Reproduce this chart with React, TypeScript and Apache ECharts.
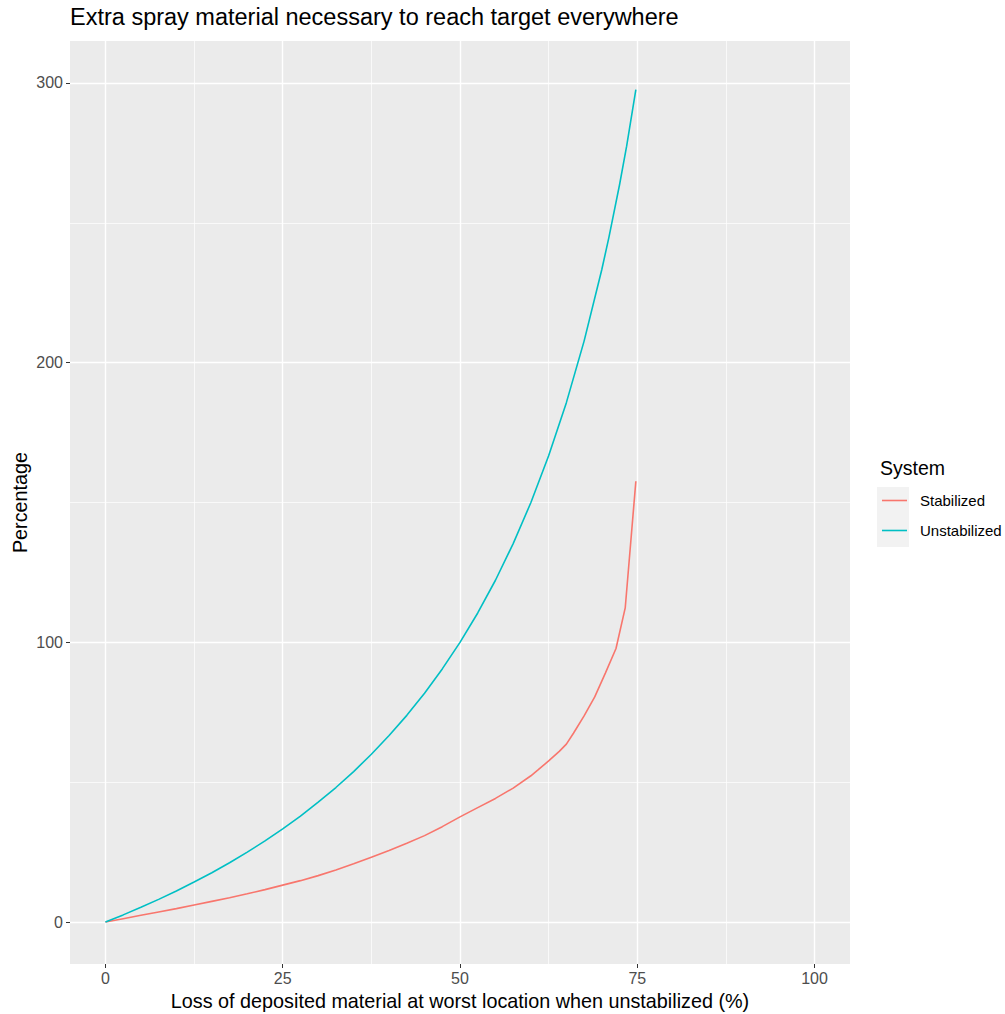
import React, { useEffect, useRef } from "react";
import * as echarts from "echarts";

const stabX = [0, 2.5, 5, 7.5, 10, 12.5, 15, 17.5, 20, 22.5, 25, 27.5, 30, 32.5, 35, 37.5, 40, 42.5, 45, 47.5, 50, 52.5, 55, 57.5, 60, 61, 62.5, 64, 65, 66, 67.5, 69, 70.5, 72, 73.3, 74.8];
const stabY = [0, 1.2, 2.4, 3.6, 4.8, 6.1, 7.4, 8.7, 10.1, 11.6, 13.2, 14.8, 16.6, 18.6, 20.8, 23.2, 25.6, 28.2, 30.9, 34.1, 37.6, 40.9, 44.2, 47.9, 52.3, 54.4, 57.6, 61.0, 63.6, 67.5, 73.7, 80.5, 89.0, 97.8, 112.3, 157.6];

const unstabX = [0, 2.5, 5, 7.5, 10, 12.5, 15, 17.5, 20, 22.5, 25, 27.5, 30, 32.5, 35, 37.5, 40, 42.5, 45, 47.5, 50, 52.5, 55, 57.5, 60, 62.5, 65, 67.5, 70, 71, 72.5, 73.5, 74.8];
const unstabY = [0, 2.56, 5.26, 8.11, 11.1, 14.3, 17.6, 21.2, 25.0, 29.0, 33.3, 37.9, 42.9, 48.1, 53.8, 60.0, 66.7, 73.9, 81.8, 90.5, 100, 110.5, 122.2, 135.3, 150, 166.7, 185.7, 207.7, 233.3, 244.8, 263.6, 277.4, 297.6];

const xTicks = [0, 25, 50, 75, 100];
const xMinor = [12.5, 37.5, 62.5, 87.5];
const yTicks = [0, 100, 200, 300];
const yMinor = [50, 150, 250];

const seriesNames = ["Stabilized", "Unstabilized"];
const seriesColors = ["#F8766D", "#00BFC4"];

const FONT = "'Liberation Sans', Arial, sans-serif";

export default function App() {
  const ref = useRef<HTMLDivElement>(null);
  useEffect(() => {
    document.body.style.margin = "0";
    const chart = echarts.init(ref.current!, null, { renderer: "svg" });
    const zip = (xs: number[], ys: number[]) => xs.map((x, i) => [x, ys[i]]);
    const hiddenLine = { show: false, onZero: false };
    const legendBase = {
      orient: "vertical",
      left: 882,
      padding: 0,
      icon: "rect",
      itemWidth: 25,
      itemHeight: 1.6,
      textStyle: { fontFamily: FONT, fontSize: 15, color: "#000000", padding: [0, 0, 0, 8] },
    };
    chart.setOption({
      animation: false,
      backgroundColor: "#FFFFFF",
      textStyle: { fontFamily: FONT },
      title: {
        text: "Extra spray material necessary to reach target everywhere",
        left: 70,
        top: 5,
        padding: 0,
        textStyle: { fontFamily: FONT, fontSize: 23.5, fontWeight: "normal", color: "#000000" },
      },
      grid: {
        left: 70,
        top: 41,
        width: 780,
        height: 923,
        show: true,
        backgroundColor: "#EBEBEB",
        borderWidth: 0,
        containLabel: false,
        outerBoundsMode: "none",
      },
      xAxis: [
        {
          type: "value",
          min: -5,
          max: 105,
          position: "bottom",
          axisLine: hiddenLine,
          name: "Loss of deposited material at worst location when unstabilized (%)",
          nameLocation: "middle",
          nameGap: 26,
          nameTextStyle: { fontFamily: FONT, fontSize: 19.8, color: "#000000" },
          axisTick: { show: true, length: 4, inside: false, lineStyle: { color: "#333333", width: 1 }, customValues: xTicks },
          axisLabel: { customValues: xTicks, margin: 6, fontFamily: FONT, fontSize: 16, color: "#4D4D4D" },
          splitLine: { show: true, lineStyle: { color: "#FFFFFF", width: 1.4 } },
        },
        {
          type: "value",
          min: -5,
          max: 105,
          position: "top",
          axisLine: hiddenLine,
          axisTick: { show: false, customValues: xMinor },
          axisLabel: { show: false, customValues: xMinor },
          splitLine: { show: true, lineStyle: { color: "#FFFFFF", width: 0.7 } },
        },
      ],
      yAxis: [
        {
          type: "value",
          min: -15,
          max: 315,
          position: "left",
          axisLine: hiddenLine,
          name: "Percentage",
          nameLocation: "middle",
          nameGap: 40,
          nameMoveOverlap: false,
          nameRotate: 90,
          nameTextStyle: { fontFamily: FONT, fontSize: 19.8, color: "#000000" },
          axisTick: { show: true, length: 4, inside: false, lineStyle: { color: "#333333", width: 1 }, customValues: yTicks },
          axisLabel: { customValues: yTicks, margin: 7, fontFamily: FONT, fontSize: 16, color: "#4D4D4D" },
          splitLine: { show: true, lineStyle: { color: "#FFFFFF", width: 1.4 } },
        },
        {
          type: "value",
          min: -15,
          max: 315,
          position: "right",
          axisLine: hiddenLine,
          axisTick: { show: false, customValues: yMinor },
          axisLabel: { show: false, customValues: yMinor },
          splitLine: { show: true, lineStyle: { color: "#FFFFFF", width: 0.7 } },
        },
      ],
      graphic: [
        {
          type: "rect",
          shape: { x: 877, y: 487, width: 32, height: 60 },
          style: { fill: "#F2F2F2" },
          silent: true,
        },
        {
          type: "text",
          x: 880,
          y: 468,
          style: {
            text: "System",
            fontFamily: FONT,
            fontSize: 19.5,
            fill: "#000000",
            verticalAlign: "middle",
            align: "left",
          },
        },
      ],
      legend: [
        { ...legendBase, data: [seriesNames[0]], top: 493 },
        { ...legendBase, data: [seriesNames[1]], top: 523 },
      ],
      series: [
        {
          name: seriesNames[0],
          type: "line",
          xAxisIndex: 0,
          yAxisIndex: 0,
          data: zip(stabX, stabY),
          symbol: "none",
          smooth: false,
          lineStyle: { color: seriesColors[0], width: 1.6 },
          itemStyle: { color: seriesColors[0] },
          z: 5,
        },
        {
          name: seriesNames[1],
          type: "line",
          xAxisIndex: 0,
          yAxisIndex: 0,
          data: zip(unstabX, unstabY),
          symbol: "none",
          smooth: false,
          lineStyle: { color: seriesColors[1], width: 1.6 },
          itemStyle: { color: seriesColors[1] },
          z: 5,
        },
      ],
    });
    return () => chart.dispose();
  }, []);
  return <div ref={ref} style={{ width: 1005, height: 1014 }} />;
}
